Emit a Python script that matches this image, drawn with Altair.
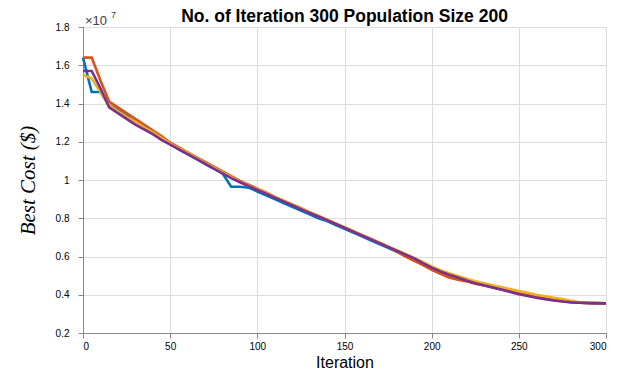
import altair as alt
import pandas as pd

iterations = [0, 5, 10, 15, 20, 25, 30, 35, 40, 45, 50, 55, 60, 65, 70, 75, 80, 85, 90, 95,
              100, 105, 110, 115, 120, 125, 130, 135, 140, 145, 150, 155, 160, 165, 170, 175,
              180, 185, 190, 195, 200, 205, 210, 215, 220, 225, 230, 235, 240, 245, 250, 255,
              260, 265, 270, 275, 280, 285, 290, 295, 300]

# Best cost in units of 1e7 $
run1 = [1.64, 1.46, 1.46, 1.39, 1.37, 1.34, 1.31, 1.28, 1.25, 1.22, 1.19, 1.16, 1.135, 1.11,
        1.085, 1.06, 1.035, 0.965, 0.965, 0.96, 0.94, 0.92, 0.90, 0.88, 0.86, 0.84, 0.82, 0.80,
        0.785, 0.765, 0.745, 0.725, 0.705, 0.685, 0.665, 0.645, 0.625, 0.605, 0.585, 0.56, 0.54,
        0.52, 0.505, 0.49, 0.475, 0.46, 0.45, 0.44, 0.428, 0.418, 0.408, 0.398, 0.388, 0.38,
        0.373, 0.367, 0.362, 0.359, 0.357, 0.356, 0.355]
run2 = [1.64, 1.64, 1.52, 1.41, 1.38, 1.35, 1.32, 1.29, 1.26, 1.23, 1.195, 1.17, 1.145, 1.12,
        1.095, 1.07, 1.045, 1.02, 0.995, 0.975, 0.955, 0.935, 0.912, 0.892, 0.872, 0.852, 0.832,
        0.812, 0.792, 0.772, 0.752, 0.732, 0.712, 0.692, 0.672, 0.652, 0.625, 0.60, 0.578, 0.555,
        0.53, 0.51, 0.49, 0.478, 0.47, 0.458, 0.448, 0.438, 0.428, 0.418, 0.408, 0.398, 0.388,
        0.38, 0.373, 0.367, 0.362, 0.359, 0.357, 0.356, 0.355]
run3 = [1.55, 1.53, 1.46, 1.39, 1.36, 1.33, 1.305, 1.275, 1.25, 1.22, 1.19, 1.165, 1.14, 1.115,
        1.09, 1.065, 1.04, 1.015, 0.99, 0.97, 0.952, 0.932, 0.912, 0.892, 0.872, 0.852, 0.832,
        0.812, 0.792, 0.772, 0.753, 0.733, 0.713, 0.693, 0.673, 0.653, 0.633, 0.613, 0.593, 0.57,
        0.548, 0.528, 0.512, 0.498, 0.484, 0.47, 0.46, 0.45, 0.44, 0.43, 0.42, 0.41, 0.40, 0.392,
        0.384, 0.377, 0.368, 0.36, 0.357, 0.356, 0.355]
run4 = [1.57, 1.57, 1.48, 1.38, 1.35, 1.32, 1.29, 1.265, 1.24, 1.21, 1.185, 1.16, 1.135, 1.11,
        1.085, 1.06, 1.035, 1.01, 0.988, 0.968, 0.948, 0.928, 0.908, 0.888, 0.868, 0.848, 0.828,
        0.81, 0.79, 0.77, 0.75, 0.73, 0.71, 0.69, 0.67, 0.65, 0.63, 0.61, 0.59, 0.565, 0.542,
        0.522, 0.505, 0.49, 0.475, 0.46, 0.45, 0.438, 0.427, 0.415, 0.403, 0.393, 0.384, 0.377,
        0.37, 0.365, 0.36, 0.358, 0.356, 0.355, 0.355]

series_names = ["Run 1", "Run 2", "Run 3", "Run 4"]
series_colors = ["#0072BD", "#D95319", "#EDB120", "#7E2F8E"]
y_ticks = [0.2, 0.4, 0.6, 0.8, 1.0, 1.2, 1.4, 1.6, 1.8]
x_ticks = [0, 50, 100, 150, 200, 250, 300]

rows = []
for name, vals in zip(series_names, [run1, run2, run3, run4]):
    for it, v in zip(iterations, vals):
        rows.append({"Iteration": it, "Cost": v, "Run": name})
df = pd.DataFrame(rows)

lines = alt.Chart(df).mark_line(strokeWidth=2.6).encode(
    x=alt.X("Iteration:Q",
            scale=alt.Scale(domain=[0, 300], nice=False),
            axis=alt.Axis(values=x_ticks, title="Iteration", labelPadding=3,
                          titlePadding=3, titleFontSize=16, titleFontWeight="normal")),
    y=alt.Y("Cost:Q",
            scale=alt.Scale(domain=[0.2, 1.8], nice=False),
            axis=alt.Axis(values=y_ticks, format=".1~f", title="Best Cost ($)",
                          labelPadding=9, titlePadding=17, titleFont="Liberation Serif",
                          titleFontStyle="italic", titleFontWeight="normal",
                          titleFontSize=21, titleColor="#000000")),
    color=alt.Color("Run:N", scale=alt.Scale(domain=series_names, range=series_colors),
                    legend=None),
)

exp_base = alt.Chart(pd.DataFrame({"t": ["×10"]})).mark_text(
    align="left", baseline="middle", fontSize=13, font="Liberation Sans", color="#404040"
).encode(text="t:N", x=alt.value(2), y=alt.value(-6))
exp_sup = alt.Chart(pd.DataFrame({"t": ["7"]})).mark_text(
    align="left", baseline="middle", fontSize=9, font="Liberation Sans", color="#404040"
).encode(text="t:N", x=alt.value(28), y=alt.value(-12))

chart = alt.layer(lines, exp_base, exp_sup).properties(
    width=523, height=306,
    title=alt.TitleParams("No. of Iteration 300 Population Size 200", fontSize=17.5,
                          font="Liberation Sans", fontWeight="bold", color="#000000",
                          anchor="middle", offset=-14),
    autosize=alt.AutoSizeParams(type="none"),
    padding={"left": 83, "top": 27, "right": 24, "bottom": 37},
).configure_view(stroke="#262626", strokeWidth=1).configure_axis(
    domainColor="#262626", gridColor="#e3e3e3", gridOpacity=1, tickSize=0,
    labelFont="Liberation Sans", labelFontSize=14, labelColor="#444444",
    titleFont="Liberation Sans", titleColor="#333333",
).configure(background="white")

chart.save("out.html", embed_options={"renderer": "svg", "actions": False})
